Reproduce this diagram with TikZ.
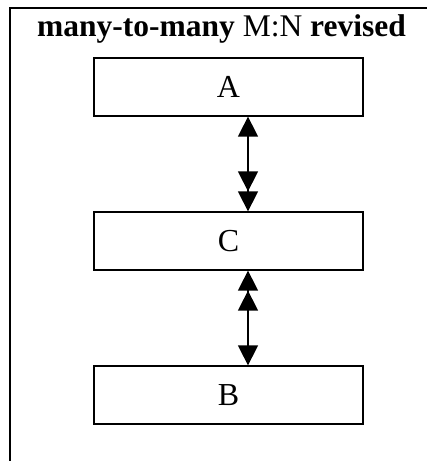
\documentclass[tikz,border=0pt]{standalone}
\usepackage{fontspec}
\setmainfont{Liberation Serif}
\usetikzlibrary{arrows.meta, positioning}

\begin{document}
\begin{tikzpicture}[
    x=1pt, y=1pt,
    entity/.style={rectangle, draw, line width=1.3pt, minimum width=269pt, minimum height=58pt, inner sep=0pt, font=\fontsize{32}{38}\selectfont},
    one/.tip={Triangle[length=20pt, width=20pt]},
    many/.tip={Triangle[length=20pt, width=20pt, sep=0pt] Triangle[length=20pt, width=20pt]},
    link/.style={line width=1.5pt}
]
\useasboundingbox (0,0) rectangle (427,461);

% frame: top and left edges only
\draw[line width=2.8pt] (427,453) -- (10,453) -- (10,0);

% title
\node (title) [anchor=base, inner sep=0pt, font=\fontsize{31.5}{38}\selectfont] at (221.5,424.5) {\textbf{many-to-many} M:N \textbf{revised}};

% entities
\node (A) [entity] at (228.5,374) {A};
\node (C) [entity] at (228.5,220) {C};
\node (B) [entity] at (228.5,66) {B};

% connectors
\draw [link, {one}-{many}] ([xshift=19.5pt]A.south) -- ([xshift=19.5pt]C.north);
\draw [link, {many}-{one}] ([xshift=19.5pt]C.south) -- ([xshift=19.5pt]B.north);

\end{tikzpicture}
\end{document}
